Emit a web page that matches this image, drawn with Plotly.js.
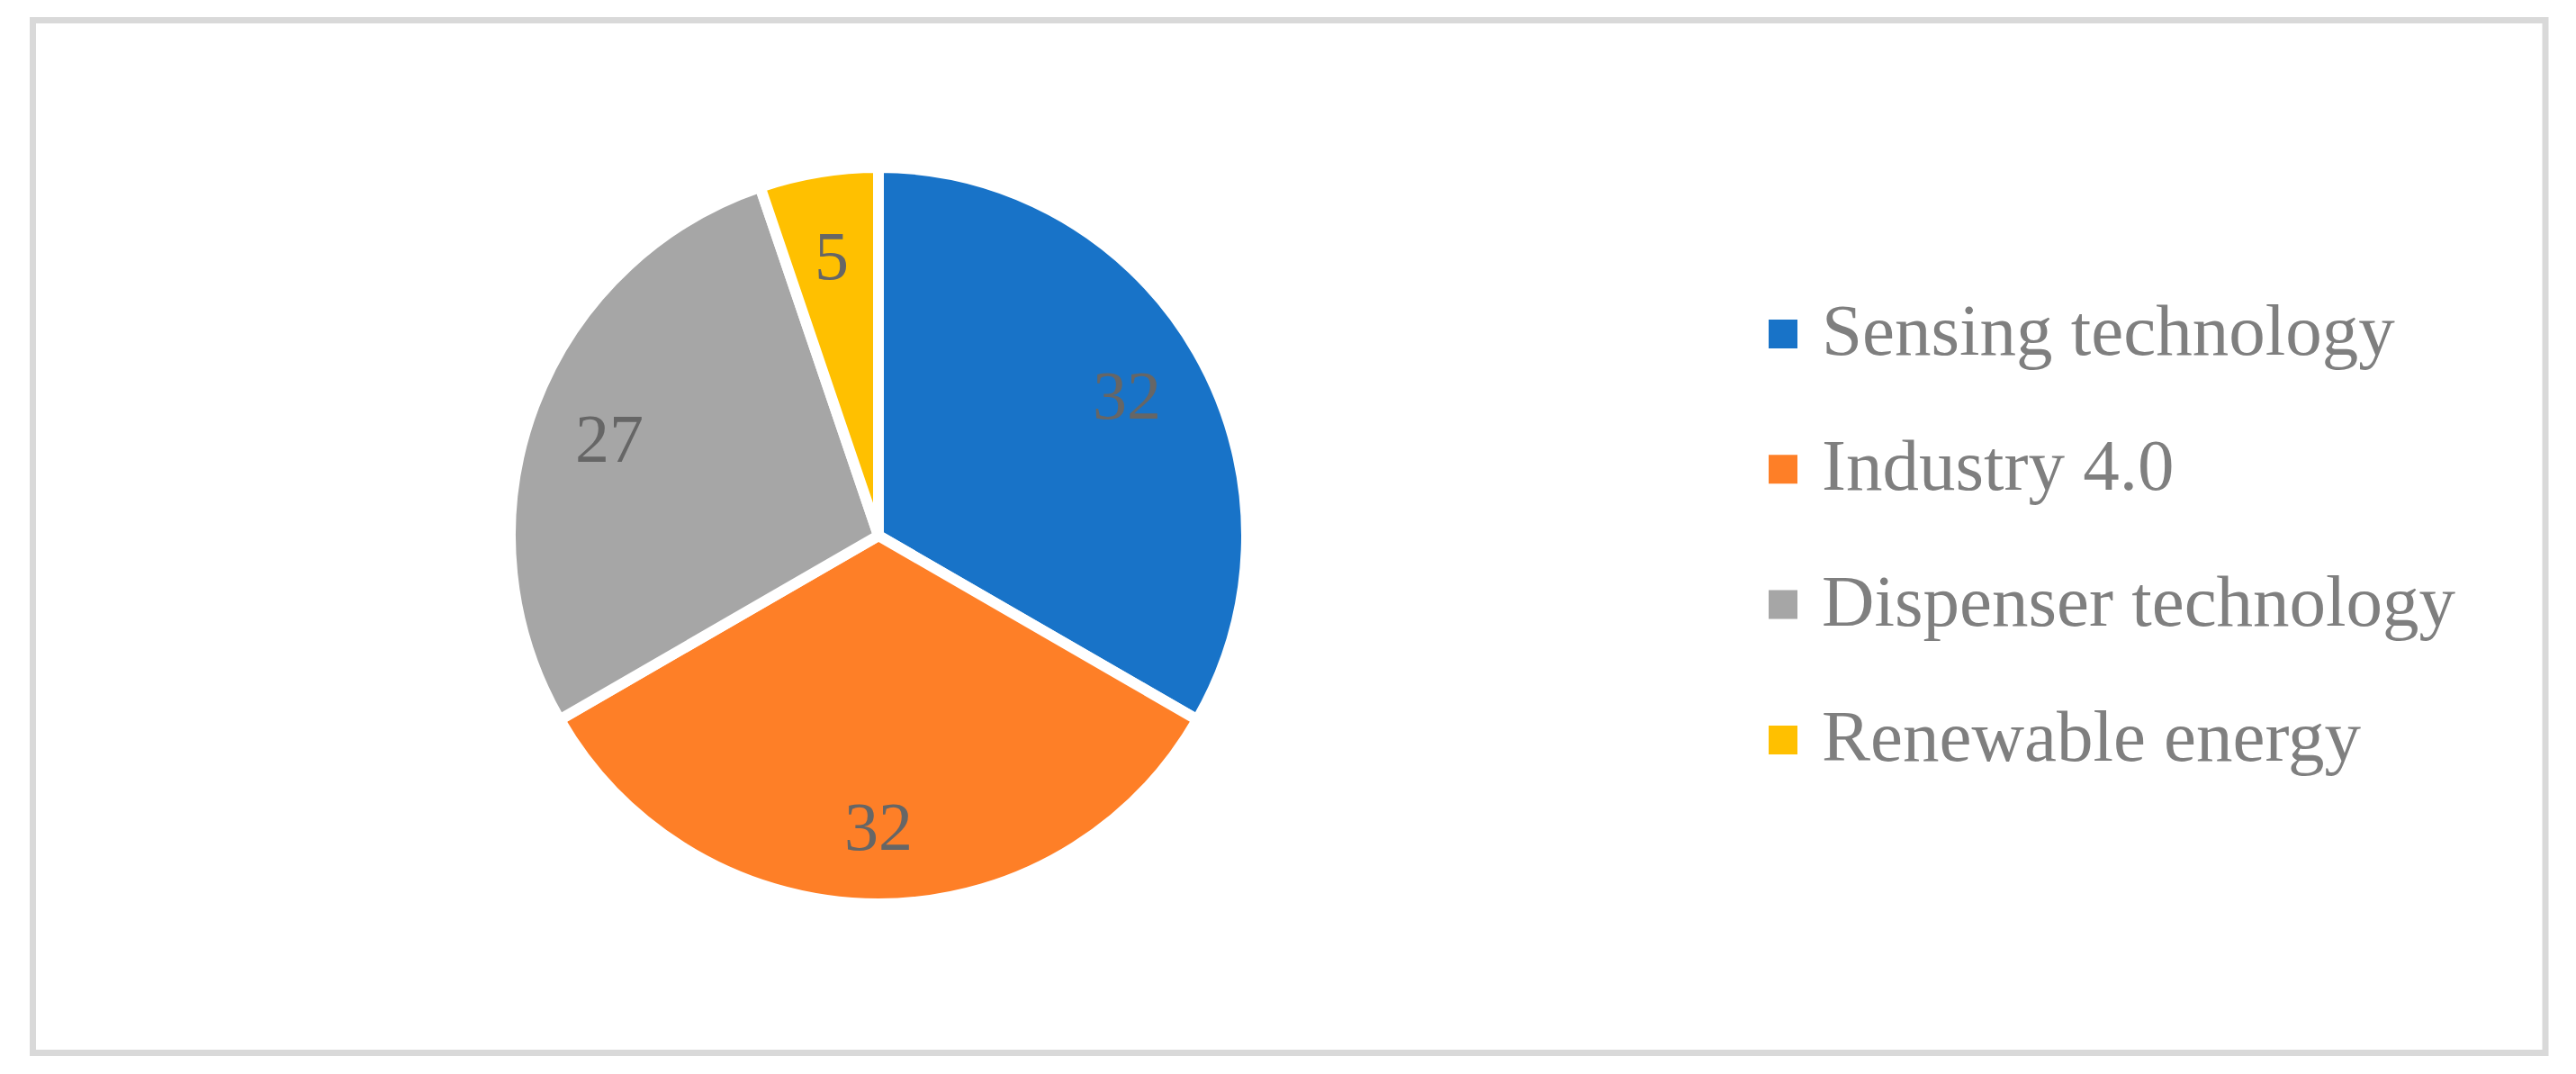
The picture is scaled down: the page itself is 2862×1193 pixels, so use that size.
<!DOCTYPE html>
<html>
<head>
<meta charset="utf-8">
<script src="https://cdn.plot.ly/plotly-3.0.1.min.js"></script>
<style>html,body{margin:0;padding:0;background:#fff;}#chart{width:2862px;height:1193px;}</style>
</head>
<body>
<div id="chart"></div>
<script>
var categories = ["Sensing technology", "Industry 4.0", "Dispenser technology", "Renewable energy"];
var values = [32, 32, 27, 5];
var colors = ["#1873c8", "#fe7f27", "#a6a6a6", "#ffc000"];

var W = 2862, H = 1193;
function px(x) { return x / W; }
function py(y) { return 1 - y / H; }

var cx = 976, cy = 595, r = 409;
var labelFont = {family: "Liberation Serif, Times New Roman, serif", size: 76, color: "#666666"};

var shapes = [{
  type: "rect", xref: "paper", yref: "paper",
  x0: px(36.5), x1: px(2828), y0: py(1169.5), y1: py(22.5),
  line: {color: "#d9d9d9", width: 7}, fillcolor: "rgba(0,0,0,0)", layer: "below"
}];
var annotations = [];

// legend (large square swatches like the original)
var legTop = 371, legStep = 150.3;
categories.forEach(function (c, i) {
  var yc = legTop + i * legStep;
  shapes.push({
    type: "rect", xref: "paper", yref: "paper",
    x0: px(1965), x1: px(1997), y0: py(yc + 16), y1: py(yc - 16),
    line: {width: 0}, fillcolor: colors[i]
  });
  annotations.push({
    xref: "paper", yref: "paper", x: px(2022), y: py(yc - 4),
    xanchor: "left", yanchor: "middle", showarrow: false,
    text: c, font: {family: "Liberation Serif, Times New Roman, serif", size: 81, color: "#7f7f7f"}
  });
});

// value labels placed along each slice's bisector, derived from the values
var total = values.reduce(function (a, b) { return a + b; }, 0);
var cum = 0;
values.forEach(function (v, i) {
  var mid = (cum + v / 2) / total * 2 * Math.PI; // clockwise from top
  cum += v;
  var d = 0.78 * r;
  var x = cx + d * Math.sin(mid);
  var y = cy - d * Math.cos(mid);
  annotations.push({
    xref: "paper", yref: "paper", x: px(x), y: py(y + 4),
    xanchor: "center", yanchor: "middle", showarrow: false,
    text: String(v), font: labelFont
  });
});

var data = [{
  type: "pie",
  labels: categories,
  values: values,
  sort: false,
  direction: "clockwise",
  rotation: 0,
  marker: {colors: colors, line: {color: "#ffffff", width: 12}},
  textinfo: "none",
  domain: {x: [px(cx - r), px(cx + r)], y: [py(cy + r), py(cy - r)]},
  showlegend: false,
  hoverinfo: "label+value"
}];

var layout = {
  width: W, height: H,
  margin: {l: 0, r: 0, t: 0, b: 0, pad: 0},
  paper_bgcolor: "#ffffff",
  showlegend: false,
  shapes: shapes,
  annotations: annotations
};

Plotly.newPlot("chart", data, layout, {displayModeBar: false, staticPlot: true});
</script>
</body>
</html>
